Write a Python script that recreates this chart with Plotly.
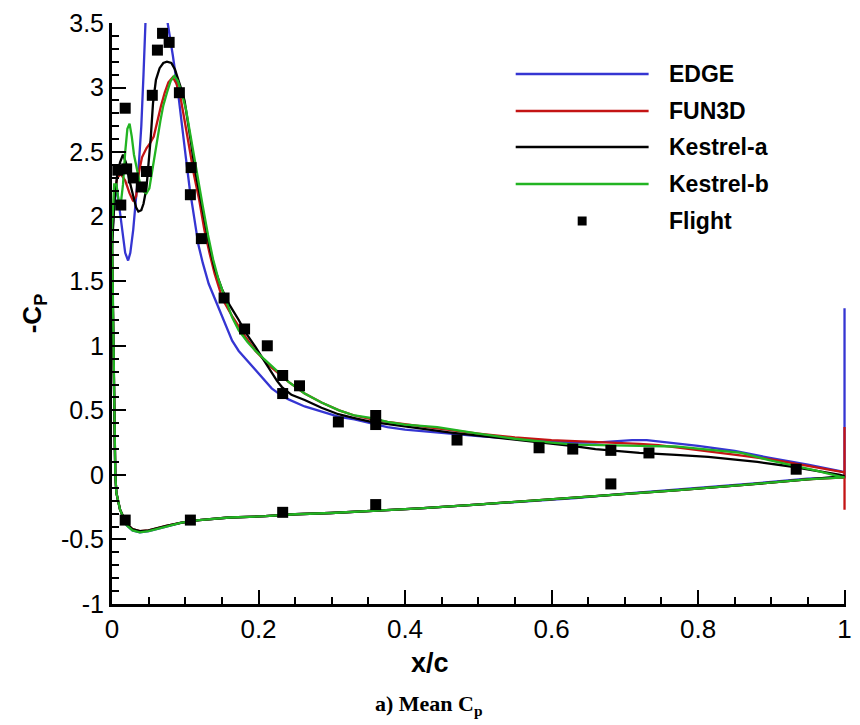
import plotly.graph_objects as go

# ---------------- surface pressure data (-Cp vs x/c) ----------------
# Upper surface, leading edge -> trailing edge
edge_up_x = [0.000, 0.002, 0.006, 0.010, 0.014, 0.018, 0.022, 0.025, 0.029, 0.033, 0.036, 0.040,
             0.043, 0.046, 0.052, 0.060, 0.068, 0.076, 0.083, 0.090, 0.096, 0.101, 0.106, 0.112,
             0.118, 0.124, 0.132, 0.142, 0.155, 0.164, 0.173, 0.185, 0.196, 0.207, 0.218, 0.230,
             0.241, 0.263, 0.286, 0.310, 0.331, 0.355, 0.376, 0.400, 0.430, 0.460, 0.500, 0.550,
             0.600, 0.633, 0.660, 0.690, 0.710, 0.730, 0.750, 0.770, 0.800, 0.850, 0.900, 0.950,
             0.994, 1.000]
edge_up_y = [1.80, 2.00, 2.25, 2.10, 1.90, 1.72, 1.66, 1.72, 1.90, 2.15, 2.35, 2.70,
             3.10, 3.55, 4.00, 4.20, 4.00, 3.50, 3.25, 2.97, 2.70, 2.45, 2.22, 2.00,
             1.78, 1.64, 1.48, 1.34, 1.16, 1.04, 0.96, 0.88, 0.81, 0.74, 0.67, 0.62,
             0.585, 0.53, 0.49, 0.45, 0.43, 0.40, 0.37, 0.35, 0.34, 0.32, 0.30, 0.28,
             0.26, 0.25, 0.25, 0.26, 0.27, 0.27, 0.26, 0.245, 0.225, 0.185, 0.13, 0.08,
             0.03, 0.02]

fun3d_up_x = [0.000, 0.003, 0.007, 0.012, 0.018, 0.024, 0.029, 0.033, 0.037, 0.041, 0.047, 0.052,
              0.057, 0.062, 0.067, 0.072, 0.077, 0.083, 0.088, 0.094, 0.100, 0.106, 0.112, 0.119,
              0.126, 0.133, 0.140, 0.151, 0.164, 0.182, 0.196, 0.218, 0.241, 0.263, 0.286, 0.310,
              0.331, 0.355, 0.376, 0.400, 0.444, 0.500, 0.550, 0.600, 0.633, 0.680, 0.720, 0.746,
              0.780, 0.820, 0.860, 0.904, 0.950, 0.994, 1.000]
fun3d_up_y = [1.80, 2.15, 2.30, 2.33, 2.28, 2.18, 2.12, 2.16, 2.35, 2.46, 2.53, 2.57,
              2.62, 2.73, 2.86, 2.96, 3.04, 3.08, 3.03, 2.91, 2.72, 2.52, 2.32, 2.13,
              1.90, 1.72, 1.56, 1.36, 1.23, 1.07, 0.96, 0.83, 0.72, 0.63, 0.56, 0.50,
              0.46, 0.43, 0.41, 0.39, 0.36, 0.32, 0.29, 0.27, 0.26, 0.25, 0.24, 0.23,
              0.21, 0.18, 0.15, 0.116, 0.07, 0.026, 0.02]

kesa_up_x = [0.000, 0.003, 0.007, 0.011, 0.015, 0.019, 0.023, 0.029, 0.033, 0.036, 0.040, 0.043,
             0.047, 0.050, 0.053, 0.056, 0.060, 0.065, 0.070, 0.075, 0.081, 0.086, 0.090, 0.095,
             0.099, 0.104, 0.108, 0.113, 0.119, 0.126, 0.133, 0.140, 0.150, 0.160, 0.173, 0.185,
             0.196, 0.207, 0.218, 0.225, 0.232, 0.245, 0.263, 0.286, 0.309, 0.331, 0.354, 0.380,
             0.420, 0.460, 0.500, 0.550, 0.600, 0.633, 0.660, 0.678, 0.700, 0.720, 0.745, 0.770,
             0.814, 0.850, 0.881, 0.927, 0.960, 0.994, 1.000]
kesa_up_y = [1.75, 2.10, 2.32, 2.42, 2.48, 2.42, 2.30, 2.16, 2.07, 2.04, 2.05, 2.10,
             2.22, 2.40, 2.62, 2.88, 3.06, 3.15, 3.19, 3.20, 3.19, 3.14, 3.08, 2.98,
             2.90, 2.73, 2.57, 2.37, 2.18, 1.97, 1.77, 1.60, 1.44, 1.32, 1.20, 1.08,
             0.99, 0.89, 0.79, 0.73, 0.68, 0.62, 0.58, 0.52, 0.47, 0.44, 0.41, 0.39,
             0.36, 0.33, 0.30, 0.27, 0.24, 0.22, 0.20, 0.19, 0.18, 0.17, 0.16, 0.155,
             0.14, 0.12, 0.10, 0.065, 0.035, 0.00, -0.01]

kesb_up_x = [0.000, 0.003, 0.006, 0.009, 0.012, 0.015, 0.018, 0.021, 0.024, 0.027, 0.030, 0.034,
             0.038, 0.042, 0.047, 0.051, 0.055, 0.058, 0.062, 0.066, 0.070, 0.075, 0.080, 0.085,
             0.090, 0.096, 0.101, 0.106, 0.112, 0.118, 0.124, 0.131, 0.138, 0.145, 0.155, 0.164,
             0.173, 0.185, 0.196, 0.207, 0.218, 0.230, 0.241, 0.263, 0.286, 0.310, 0.331, 0.355,
             0.376, 0.400, 0.444, 0.500, 0.550, 0.600, 0.633, 0.680, 0.720, 0.769, 0.800, 0.859,
             0.900, 0.927, 0.960, 0.994, 1.000]
kesb_up_y = [1.90, 2.25, 2.25, 2.12, 2.10, 2.25, 2.50, 2.68, 2.72, 2.62, 2.48, 2.36,
             2.26, 2.20, 2.18, 2.22, 2.33, 2.47, 2.60, 2.74, 2.86, 2.96, 3.05, 3.09,
             3.05, 2.94, 2.83, 2.68, 2.47, 2.28, 2.08, 1.86, 1.67, 1.52, 1.36, 1.22,
             1.12, 1.03, 0.96, 0.90, 0.84, 0.78, 0.72, 0.63, 0.56, 0.50, 0.46, 0.44,
             0.41, 0.39, 0.37, 0.32, 0.28, 0.25, 0.235, 0.23, 0.225, 0.22, 0.20, 0.17,
             0.11, 0.078, 0.035, -0.013, -0.02]

# Lower surface, leading edge -> trailing edge
low_x = [0.000, 0.002, 0.003, 0.0045, 0.006, 0.011, 0.020, 0.028, 0.038, 0.050, 0.074, 0.095,
         0.119, 0.160, 0.209, 0.250, 0.299, 0.360, 0.420, 0.498, 0.560, 0.633, 0.700, 0.769,
         0.859, 0.900, 0.949, 1.000]
edge_low_y = [1.80, 1.00, 0.40, 0.00, -0.14, -0.27, -0.39, -0.43, -0.445, -0.435, -0.40, -0.37,
              -0.35, -0.33, -0.32, -0.305, -0.295, -0.28, -0.26, -0.23, -0.205, -0.18, -0.145, -0.115,
              -0.075, -0.055, -0.03, -0.02]
fun3d_low_y = [1.80, 1.00, 0.40, 0.00, -0.14, -0.27, -0.38, -0.42, -0.435, -0.43, -0.395, -0.37,
               -0.35, -0.33, -0.32, -0.305, -0.295, -0.28, -0.26, -0.23, -0.205, -0.18, -0.15, -0.12,
               -0.08, -0.06, -0.035, -0.02]
kesa_low_y = [1.75, 1.00, 0.40, 0.00, -0.14, -0.27, -0.38, -0.42, -0.435, -0.43, -0.395, -0.37,
              -0.35, -0.33, -0.32, -0.305, -0.295, -0.28, -0.26, -0.23, -0.205, -0.18, -0.15, -0.12,
              -0.08, -0.06, -0.035, -0.01]
kesb_low_y = [1.90, 1.00, 0.40, 0.00, -0.14, -0.27, -0.39, -0.43, -0.445, -0.435, -0.40, -0.37,
              -0.35, -0.33, -0.32, -0.305, -0.295, -0.28, -0.26, -0.23, -0.205, -0.18, -0.15, -0.12,
              -0.08, -0.06, -0.035, -0.02]

# Trailing-edge base points
edge_te_y = [1.29, -0.02]
fun3d_te_y = [-0.27, 0.37]

# Flight measurements
flight_x = [0.008, 0.012, 0.020, 0.018, 0.029, 0.040, 0.047, 0.055, 0.062, 0.069, 0.078, 0.092,
            0.108, 0.107, 0.122, 0.153, 0.181, 0.212, 0.233, 0.233, 0.256, 0.309, 0.360, 0.360,
            0.471, 0.583, 0.629, 0.681, 0.681, 0.733, 0.934,
            0.018, 0.107, 0.233, 0.360]
flight_y = [2.36, 2.09, 2.37, 2.84, 2.30, 2.23, 2.35, 2.94, 3.29, 3.42, 3.35, 2.96,
            2.38, 2.17, 1.83, 1.37, 1.13, 1.00, 0.77, 0.63, 0.69, 0.41, 0.46, 0.39,
            0.27, 0.21, 0.20, 0.19, -0.07, 0.17, 0.044,
            -0.35, -0.35, -0.29, -0.23]

# ---------------- styling ----------------
names = ["EDGE", "FUN3D", "Kestrel-a", "Kestrel-b"]
colors = ["#3535d2", "#c41414", "#000000", "#22b422"]

y_ticks = [-1, -0.5, 0, 0.5, 1, 1.5, 2, 2.5, 3, 3.5]
y_ticktext = ["-1", "-0.5", "0", "0.5", "1", "1.5", "2", "2.5", "3", "3.5"]
x_ticks = [0, 0.2, 0.4, 0.6, 0.8, 1]
x_ticktext = ["0", "0.2", "0.4", "0.6", "0.8", "1"]

W, H = 860, 725
ML, MR, MT, MB = 112, 8, 23, 121

fig = go.Figure()

surfaces = [
    (edge_up_x, edge_up_y, edge_low_y, edge_te_y),
    (fun3d_up_x, fun3d_up_y, fun3d_low_y, fun3d_te_y),
    (kesa_up_x, kesa_up_y, kesa_low_y, []),
    (kesb_up_x, kesb_up_y, kesb_low_y, []),
]
for (ux, uy, ly, te), name, col in zip(surfaces, names, colors):
    # one continuous path: lower surface LE->TE, base points, upper surface TE->LE
    px = list(low_x) + [1.0] * len(te) + list(ux)[::-1]
    py = list(ly) + list(te) + list(uy)[::-1]
    fig.add_trace(go.Scatter(x=px, y=py, mode="lines", name=name,
                             line=dict(color=col, width=2.3), showlegend=False))

fig.add_trace(go.Scatter(x=flight_x, y=flight_y, mode="markers", name="Flight",
                         marker=dict(symbol="square", size=11, color="black"),
                         showlegend=False))

# Legend drawn with line segments and labels
def px_to_paper(xp, yp):
    return (xp - ML) / (W - ML - MR), (H - MB - yp) / (H - MT - MB)

legend_rows = [74, 111, 147, 184, 221]
shapes = []
annotations = []
sans = "Liberation Sans, Arial, sans-serif"
for i, (lab, row) in enumerate(zip(names + ["Flight"], legend_rows)):
    x0, yy = px_to_paper(519, row)
    x1, _ = px_to_paper(653, row)
    xt, _ = px_to_paper(672, row)
    if i < 4:
        shapes.append(dict(type="line", xref="paper", yref="paper", x0=x0, x1=x1, y0=yy, y1=yy,
                           line=dict(color=colors[i], width=2.3)))
    else:
        cx, cy = px_to_paper(586, row)
        hx = 4.5 / (W - ML - MR)
        hy = 4.5 / (H - MT - MB)
        shapes.append(dict(type="rect", xref="paper", yref="paper",
                           x0=cx - hx, x1=cx + hx, y0=cy - hy, y1=cy + hy,
                           fillcolor="black", line=dict(width=0)))
    annotations.append(dict(text=lab, xref="paper", yref="paper", x=xt, y=yy,
                            xanchor="left", yanchor="middle", showarrow=False,
                            font=dict(family=sans, size=23, color="black", weight="bold")))

# x-axis title
tx, ty = px_to_paper(433, 663)
annotations.append(dict(text="x/c", xref="paper", yref="paper", x=tx, y=ty,
                        xanchor="center", yanchor="middle", showarrow=False,
                        font=dict(family=sans, size=27, color="black", weight="bold")))

# Caption below the axis
cx, cy = px_to_paper(432, 705)
annotations.append(dict(text="a) Mean C<sub>p</sub>", xref="paper", yref="paper", x=cx, y=cy,
                        xanchor="center", yanchor="middle", showarrow=False,
                        font=dict(family="Liberation Serif, Times New Roman, serif", size=22,
                                  color="black", weight="bold")))

tick_font_y = dict(family=sans, size=25, color="black")
tick_font_x = dict(family=sans, size=26, color="black")
title_font = dict(family=sans, size=26, color="black", weight="bold")

fig.update_layout(
    width=W, height=H,
    margin=dict(l=ML, r=MR, t=MT, b=MB),
    paper_bgcolor="white", plot_bgcolor="white",
    shapes=shapes, annotations=annotations,
    xaxis=dict(range=[0, 1.002], showgrid=False, zeroline=False,
               showline=True, linecolor="black", linewidth=3,
               ticks="inside", ticklen=14, tickwidth=2, tickcolor="black",
               tickvals=x_ticks, ticktext=x_ticktext, tickfont=tick_font_x,
               minor=dict(dtick=0.05, tick0=0, ticks="inside", ticklen=7, tickwidth=1.5,
                          tickcolor="black")),
    yaxis=dict(range=[-1, 3.5], showgrid=False, zeroline=False,
               showline=True, linecolor="black", linewidth=3,
               ticks="inside", ticklen=14, tickwidth=2, tickcolor="black",
               tickvals=y_ticks, ticktext=y_ticktext, tickfont=tick_font_y,
               minor=dict(dtick=0.1, tick0=0, ticks="inside", ticklen=7, tickwidth=1.5,
                          tickcolor="black"),
               title=dict(text="-C<sub>P</sub>", font=title_font, standoff=12)),
)

fig.write_html("out.html")
